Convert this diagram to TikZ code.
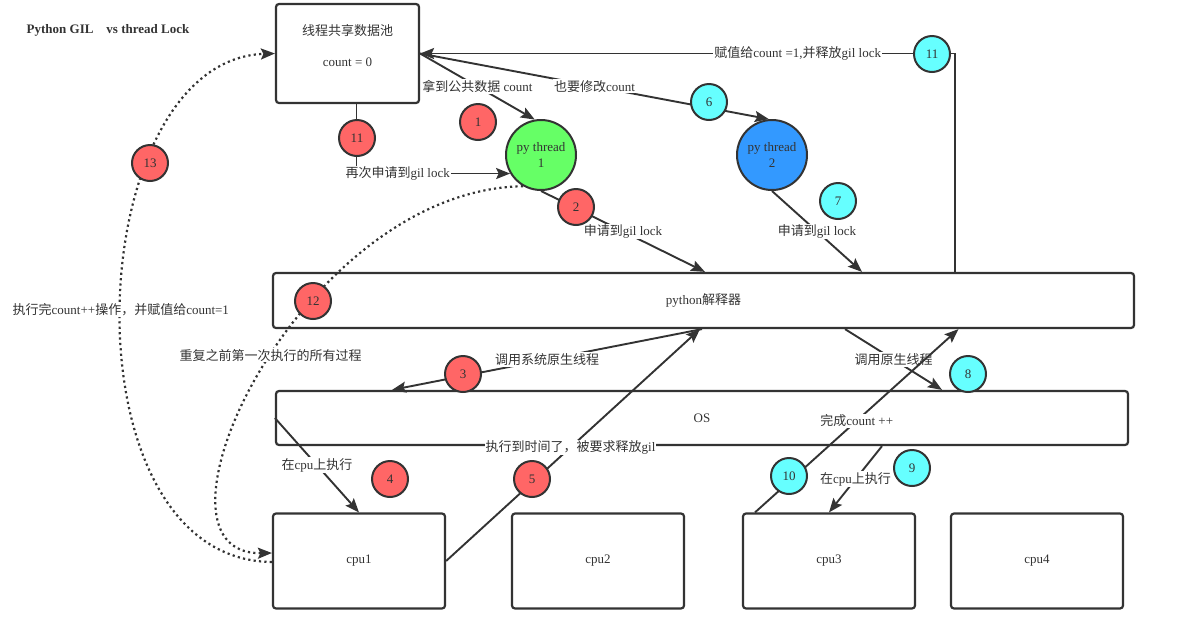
\documentclass[tikz,border=0pt]{standalone}
\usepackage{fontspec}
\setmainfont{Liberation Serif}
\newfontfamily\cjk{Noto Sans CJK SC}
\newcommand{\zh}[1]{{\cjk #1}}
\usetikzlibrary{arrows.meta,calc}
\definecolor{ink}{HTML}{333333}
\definecolor{rd}{HTML}{FF6666}
\definecolor{cy}{HTML}{66FFFF}
\definecolor{gr}{HTML}{66FF66}
\definecolor{bl}{HTML}{3399FF}

\begin{document}
\begin{tikzpicture}[x=1pt,y=-1pt,font=\fontsize{13}{16}\selectfont,text=ink]
\tikzstyle{bx}=[draw=ink,line width=2.2pt,rounded corners=3pt,inner sep=0pt]
\tikzstyle{th}=[draw=ink,circle,line width=2pt,minimum size=70pt,inner sep=0pt,align=center]
\tikzstyle{mr}=[draw=ink,circle,fill=rd,line width=2pt,minimum size=36pt,inner sep=0pt]
\tikzstyle{mc}=[mr,fill=cy]
\tikzstyle{ar}=[draw=ink,line width=1.9pt,-{Stealth[length=14pt,width=11pt,inset=2.5pt]}]
\tikzstyle{dt}=[ar,line width=2.2pt,dash pattern=on 2.2pt off 3.2pt]
\tikzstyle{lbl}=[fill=white,inner sep=1pt]
\useasboundingbox (0,0) rectangle (1178,638);

\node[font=\fontsize{13}{16}\selectfont\bfseries] (title) at (108,30) {Python GIL\hspace{1em}vs thread Lock};

% boxes
\node[bx,minimum width=143pt,minimum height=99pt,
  label={[align=center,yshift=7.5pt]center:{\zh{线程共享数据池}\\[15pt]count = 0}}] (pool) at (347.5,53.5) {};
\node[th,fill=gr] (t1) at (541,155) {py thread\\1};
\node[th,fill=bl] (t2) at (772,155) {py thread\\2};
\node[bx,minimum width=861pt,minimum height=55pt] (interp) at (703.5,300.5) {python\zh{解释器}};
\node[bx,minimum width=852pt,minimum height=54pt] (os) at (702,418) {OS};
\node[bx,minimum width=172pt,minimum height=95pt] (cpu1) at (359,561) {cpu1};
\node[bx,minimum width=172pt,minimum height=95pt] (cpu2) at (598,561) {cpu2};
\node[bx,minimum width=172pt,minimum height=95pt] (cpu3) at (829,561) {cpu3};
\node[bx,minimum width=172pt,minimum height=95pt] (cpu4) at (1037,561) {cpu4};

% connectors
\draw[ar] (pool.east) -- node[lbl] {\zh{拿到公共数据} count} (t1.100);
\draw[ar] (pool.east) -- node[lbl] {\zh{也要修改}count} (t2.95);
\draw[ar] ([xshift=251.5pt]interp.north) |- node[lbl,pos=0.647] {\zh{赋值给}count =1,\zh{并释放}gil lock} (pool.east);
\draw[ar] ([xshift=9pt]pool.south) |- node[lbl,pos=0.634] {\zh{再次申请到}gil lock} (t1.211);
\draw[ar] (t1.south) -- node[lbl] {\zh{申请到}gil lock} ([xshift=1.5pt]interp.north);
\draw[ar] (t2.south) -- node[lbl] {\zh{申请到}gil lock} ([xshift=158.5pt]interp.north);
\draw[ar] ([xshift=-1.5pt]interp.south) -- node[lbl] {\zh{调用系统原生线程}} ([xshift=-310pt]os.north);
\draw[ar] ([xshift=141.5pt]interp.south) -- node[lbl] {\zh{调用原生线程}} ([xshift=240pt]os.north);
\draw[ar] (os.west) -- node[lbl] {\zh{在}cpu\zh{上执行}} (cpu1.north);
\draw[ar] (cpu1.east) -- node[lbl,pos=0.49] {\zh{执行到时间了，被要求释放}gil} ([xshift=-3.5pt]interp.south);
\draw[ar] ([xshift=180pt]os.south) -- node[lbl] {\zh{在}cpu\zh{上执行}} (cpu3.north);
\draw[ar] ([xshift=-74pt]cpu3.north) -- node[lbl] {\zh{完成}count ++} ([xshift=255pt]interp.south);
\draw[dt] (t1.240) .. controls (300,190) and (130,555) .. node[lbl,pos=0.47] {\zh{重复之前第一次执行的所有过程}} ([yshift=8pt]cpu1.west);
\draw[dt] ([yshift=-1pt]cpu1.west) .. controls (60,560) and (80,60) .. node[lbl] {\zh{执行完}count++\zh{操作，并赋值给}count=1} (pool.west);

% step markers
\node[mr] (r1) at (478,122) {1};
\node[mr] (r2) at (576,207) {2};
\node[mr] (r3) at (463,374) {3};
\node[mr] (r4) at (390,479) {4};
\node[mr] (r5) at (532,479) {5};
\node[mc] (c6) at (709,102) {6};
\node[mc] (c7) at (838,201) {7};
\node[mc] (c8) at (968,374) {8};
\node[mc] (c9) at (912,468) {9};
\node[mc] (c10) at (789,476) {10};
\node[mc] (c11) at (932,54) {11};
\node[mr] (r11) at (357,138) {11};
\node[mr] (r12) at (313,301) {12};
\node[mr] (r13) at (150,163) {13};
\end{tikzpicture}
\end{document}
